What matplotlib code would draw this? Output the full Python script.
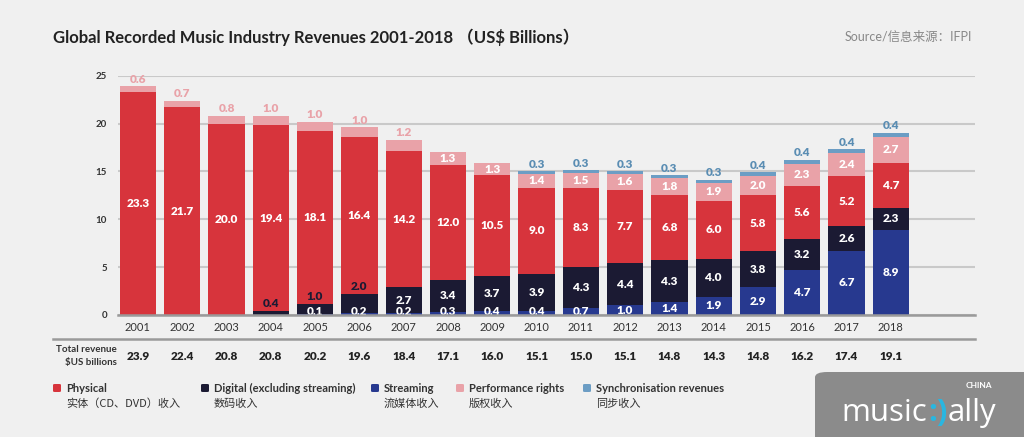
import numpy as np
import matplotlib.pyplot as plt
from matplotlib.patches import FancyBboxPatch

plt.rcParams['font.family'] = ['Lato', 'Noto Sans CJK SC', 'DejaVu Sans']

# data (US$ billions)
years = [str(y) for y in range(2001, 2019)]
physical = [23.3, 21.7, 20.0, 19.4, 18.1, 16.4, 14.2, 12.0, 10.5, 9.0, 8.3, 7.7, 6.8, 6.0, 5.8, 5.6, 5.2, 4.7]
digital = [0, 0, 0, 0.4, 1.0, 2.0, 2.7, 3.4, 3.7, 3.9, 4.3, 4.4, 4.3, 4.0, 3.8, 3.2, 2.6, 2.3]
streaming = [0, 0, 0, 0, 0.1, 0.2, 0.2, 0.3, 0.4, 0.4, 0.7, 1.0, 1.4, 1.9, 2.9, 4.7, 6.7, 8.9]
performance = [0.6, 0.7, 0.8, 1.0, 1.0, 1.0, 1.2, 1.3, 1.3, 1.4, 1.5, 1.6, 1.8, 1.9, 2.0, 2.3, 2.4, 2.7]
sync = [0, 0, 0, 0, 0, 0, 0, 0, 0, 0.3, 0.3, 0.3, 0.3, 0.3, 0.4, 0.4, 0.4, 0.4]
totals = [23.9, 22.4, 20.8, 20.8, 20.2, 19.6, 18.4, 17.1, 16.0, 15.1, 15.0, 15.1, 14.8, 14.3, 14.8, 16.2, 17.4, 19.1]

series_en = ['Physical', 'Digital (excluding streaming)', 'Streaming', 'Performance rights', 'Synchronisation revenues']
series_cn = ['实体（CD、DVD）收入', '数码收入', '流媒体收入', '版权收入', '同步收入']

c_phys = '#d7343c'
c_dig = '#1b1a33'
c_str = '#27398f'
c_perf = '#e9a2a8'
c_sync = '#6c9dc4'
bg = '#f0f0f0'

W, H = 1024, 437
fig = plt.figure(figsize=(W / 100, H / 100), dpi=100, facecolor=bg)


def px(x, y):
    return x / W, 1 - y / H


ax = fig.add_axes([118 / W, 1 - 315 / H, (975 - 118) / W, (315 - 75.7) / H])
ax.set_facecolor(bg)

x = np.arange(len(years))
s = np.array(streaming)
d = np.array(digital)
p = np.array(physical)
pr = np.array(performance)
sy = np.array(sync)
w = 0.82
ax.bar(x, s, w, color=c_str, zorder=3)
ax.bar(x, d, w, bottom=s, color=c_dig, zorder=3)
ax.bar(x, p, w, bottom=s + d, color=c_phys, zorder=3)
ax.bar(x, pr, w, bottom=s + d + p, color=c_perf, zorder=3)
ax.bar(x, sy, w, bottom=s + d + p + pr, color=c_sync, zorder=3)

lab = dict(ha='center', va='center', fontsize=8.5, fontweight='heavy', family=['Lato', 'DejaVu Sans'], zorder=5)
for i in range(len(years)):
    # streaming
    if s[i] > 0:
        ax.text(x[i], max(s[i] / 2, 0.35), f'{s[i]:.1f}', color='white', **lab)
    # digital
    if d[i] > 0:
        if d[i] >= 2.3:
            ax.text(x[i], s[i] + d[i] / 2, f'{d[i]:.1f}', color='white', **lab)
        else:
            ax.text(x[i], s[i] + d[i] + 0.8, f'{d[i]:.1f}', color=c_dig, **lab)
    # physical
    ax.text(x[i], s[i] + d[i] + p[i] / 2, f'{p[i]:.1f}', color='white', **lab)
    top = s[i] + d[i] + p[i]
    # performance rights
    if i < 7:
        ax.text(x[i], top + pr[i] + 0.75, f'{pr[i]:.1f}', color=c_perf, **lab)
    else:
        ax.text(x[i], top + pr[i] / 2, f'{pr[i]:.1f}', color='white', **lab)
    # sync
    if sy[i] > 0:
        ax.text(x[i], top + pr[i] + sy[i] + 0.75, f'{sy[i]:.1f}', color='#5a8db3', **lab)

ax.set_xlim(-0.45, 18.9)
ax.set_ylim(0, 25)
ax.set_yticks([0, 5, 10, 15, 20, 25])
ax.set_xticks(x)
ax.set_xticklabels(years)
ax.tick_params(axis='x', length=0, pad=5, labelsize=8, colors='#333333')
ax.tick_params(axis='y', length=0, pad=8, labelsize=7, colors='#333333')
for lbl in ax.get_yticklabels():
    lbl.set_fontweight('bold')
ax.grid(axis='y', color='#c9c9c9', linewidth=1.5, zorder=0)
for sp in ['top', 'right', 'left']:
    ax.spines[sp].set_visible(False)
ax.spines['bottom'].set_color('#9a9a9a')
ax.spines['bottom'].set_linewidth(1.8)
ax.spines['bottom'].set_zorder(6)

# title + source
fig.text(*px(53, 37), 'Global Recorded Music Industry Revenues 2001-2018 （US$ Billions）',
         fontsize=12, fontweight='bold', color='#222222', va='center', ha='left')
fig.text(*px(972, 37), 'Source/信息来源：IFPI', fontsize=9, color='#888888', va='center', ha='right')

# separator line
fig.add_artist(plt.Line2D([53 / W, 975 / W], [1 - 339 / H, 1 - 339 / H], color='#9a9a9a', linewidth=1.8))

# totals row
fig.text(*px(117, 349), 'Total revenue', fontsize=7, fontweight='bold', color='#333333', ha='right', va='center')
fig.text(*px(117, 362), '$US billions', fontsize=7, fontweight='bold', color='#333333', ha='right', va='center')
step = (975 - 118) / 19.35
x0 = 118 + 0.45 * step
for i, t in enumerate(totals):
    fig.text(*px(x0 + i * step, 356), f'{t:.1f}', fontsize=8.5, fontweight='heavy', color='#222222',
             ha='center', va='center')

# legend
colors = [c_phys, c_dig, c_str, c_perf, c_sync]
mx = [57, 205, 375, 460, 587]
for c, m, en, cn in zip(colors, mx, series_en, series_cn):
    fig.add_artist(FancyBboxPatch(px(m - 4, 392), 8 / W, 8 / H,
                                  boxstyle='round,pad=0,rounding_size=0.002', transform=fig.transFigure,
                                  facecolor=c, edgecolor='none'))
    fig.text(*px(m + 9, 388), en, fontsize=8, fontweight='bold', color='#333333', ha='left', va='center')
    fig.text(*px(m + 9, 404), cn, fontsize=8, color='#333333', ha='left', va='center',
             family=['Noto Sans CJK SC', 'DejaVu Sans'])

# logo
fig.add_artist(FancyBboxPatch(px(815, 450), 230 / W, 78 / H,
                              boxstyle='round,pad=0,rounding_size=0.012', transform=fig.transFigure,
                              facecolor='#8b8b8b', edgecolor='none', zorder=-1))
fig.text(*px(992, 386), 'CHINA', fontsize=6, fontweight='bold', color='white', ha='right', va='center')
t1 = ax.annotate('music', xy=px(841, 421), xycoords='figure fraction',
                 fontsize=22.5, color='white', ha='left', va='baseline', family=['Open Sans'],
                 annotation_clip=False, zorder=10)
t2 = ax.annotate(':)', xy=(1, 0), xycoords=t1, xytext=(1, 0), textcoords='offset points',
                 fontsize=22.5, color='#29b6e0', ha='left', va='bottom', fontweight='bold',
                 family=['Open Sans'], annotation_clip=False, zorder=10)
ax.annotate('ally', xy=(1, 0), xycoords=t2, xytext=(0, 0), textcoords='offset points',
            fontsize=22.5, color='white', ha='left', va='bottom', family=['Open Sans'],
            annotation_clip=False, zorder=10)

fig.savefig('out.png', dpi=100, facecolor=bg)
